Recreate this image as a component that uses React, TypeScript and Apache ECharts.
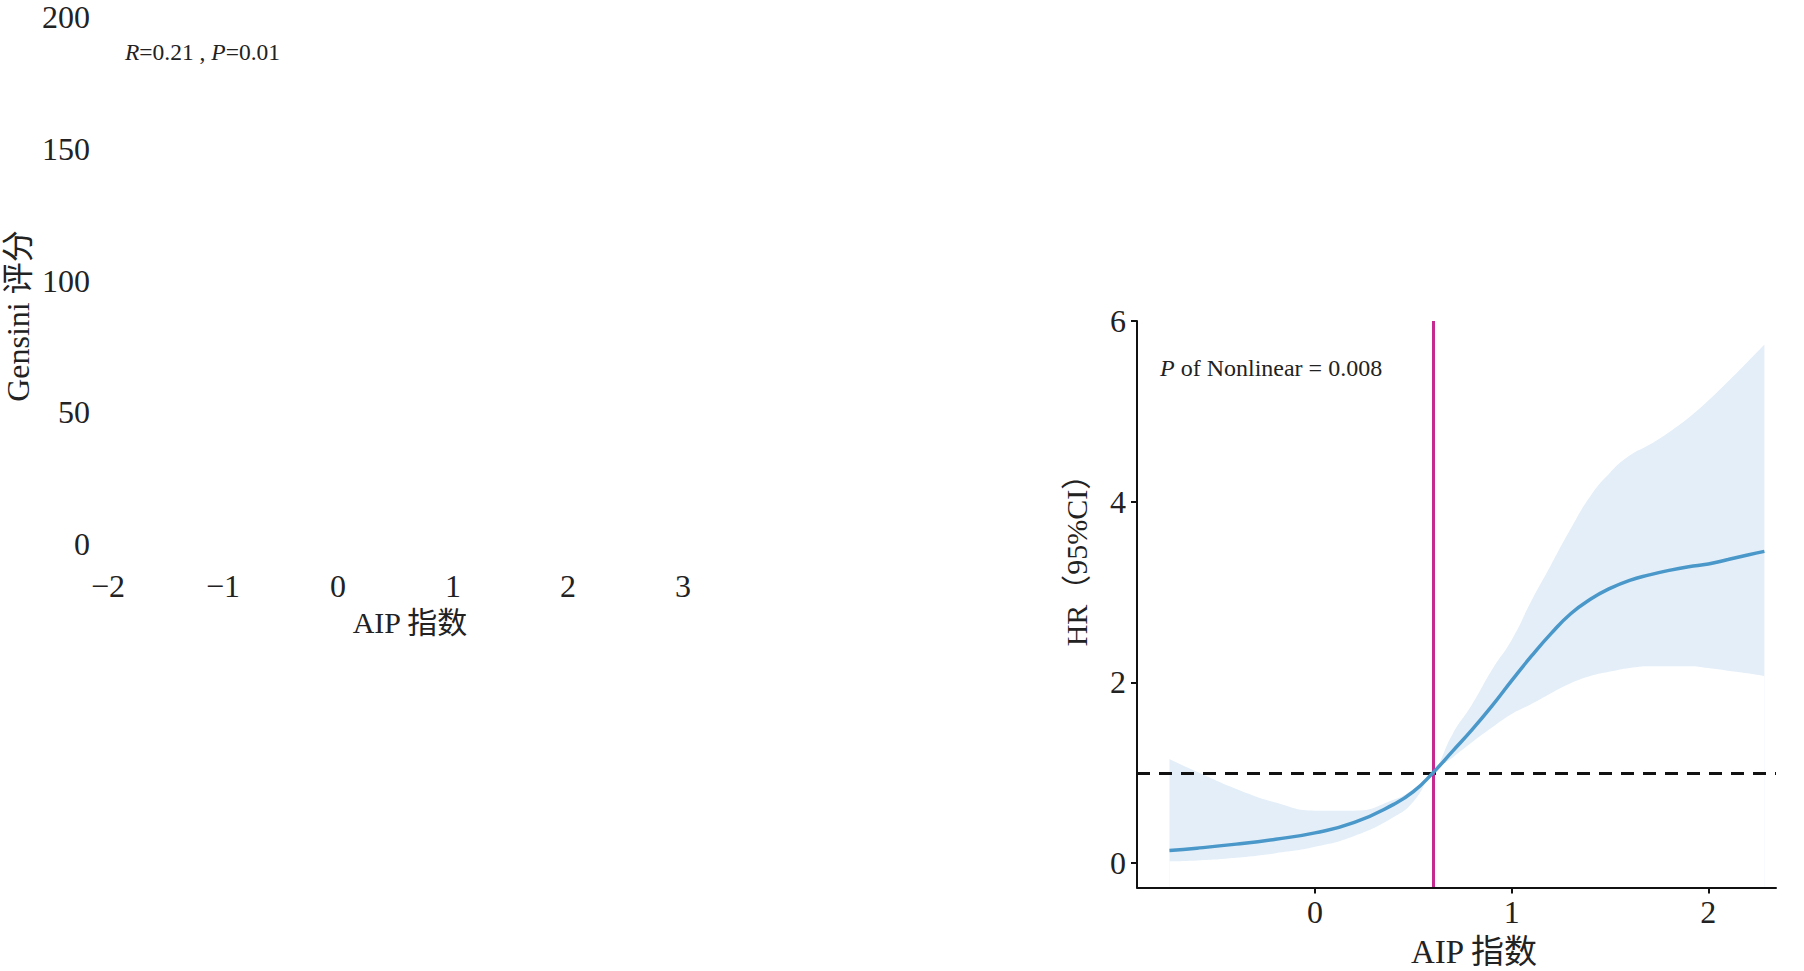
import React, { useEffect, useRef } from "react";
import * as echarts from "echarts";

// Left panel (empty scatter frame)
const leftYTicks = [0, 50, 100, 150, 200];
const leftXTicks = [-2, -1, 0, 1, 2, 3];

// Right panel (RCS curve)
const aipX = [-0.74, -0.6, -0.4, -0.2, 0, 0.2, 0.4, 0.5, 0.6, 0.7, 0.8, 0.9, 1.0, 1.1, 1.2, 1.3, 1.4, 1.5, 1.6, 1.7, 1.8, 1.9, 2.0, 2.1, 2.2, 2.285];
const hrValues = [0.14, 0.165, 0.21, 0.265, 0.335, 0.45, 0.65, 0.79, 1.0, 1.24, 1.48, 1.74, 2.02, 2.29, 2.54, 2.76, 2.92, 3.04, 3.13, 3.19, 3.24, 3.28, 3.31, 3.36, 3.41, 3.45];
const ciUpper = [1.15, 1.01, 0.82, 0.67, 0.58, 0.58, 0.7, 0.82, 1.0, 1.43, 1.76, 2.14, 2.47, 2.9, 3.3, 3.7, 4.06, 4.32, 4.51, 4.63, 4.77, 4.93, 5.12, 5.33, 5.55, 5.74];
const ciLower = [0.02, 0.03, 0.06, 0.11, 0.18, 0.3, 0.51, 0.68, 1.0, 1.17, 1.34, 1.5, 1.65, 1.76, 1.88, 1.99, 2.07, 2.12, 2.16, 2.18, 2.18, 2.18, 2.16, 2.13, 2.1, 2.07];
const rightXTicks = [0, 1, 2];
const rightYTicks = [0, 2, 4, 6];
const refHR = 1;
const cutPoint = 0.6;
const pNonlinear = "0.008";

const SERIF = "'Liberation Serif', 'DejaVu Serif', 'Noto Sans CJK SC', serif";

export default function App() {
  const ref = useRef<HTMLDivElement>(null);
  useEffect(() => {
    if (!ref.current) return;
    const chart = echarts.init(ref.current, null, { renderer: "svg" });
    const upperData = aipX.map((x, i) => [x, ciUpper[i]]);
    const lowerData = aipX.map((x, i) => [x, ciLower[i]]);
    const hrData = aipX.map((x, i) => [x, hrValues[i]]);
    const option: any = {
      animation: false,
      backgroundColor: "#ffffff",
      textStyle: { fontFamily: SERIF },
      grid: [
        { left: 108, width: 575, top: 17, height: 527 },
        { left: 1137, right: 28, top: 321, bottom: 83.5 },
      ],
      xAxis: [
        {
          gridIndex: 0,
          type: "value",
          min: leftXTicks[0],
          max: leftXTicks[leftXTicks.length - 1],
          interval: 1,
          axisLine: { show: false },
          axisTick: { show: false },
          splitLine: { show: false },
          axisLabel: {
            margin: 26,
            fontSize: 32,
            color: "#222",
            fontFamily: SERIF,
            formatter: (v: number) => (v < 0 ? "\u2212" + Math.abs(v) : String(v)),
          },
        },
        {
          gridIndex: 1,
          type: "value",
          min: -0.905,
          max: 2.344,
          z: 10,
          axisLine: { show: true, onZero: false, lineStyle: { color: "#111", width: 2 } },
          axisTick: { show: true, length: 6, lineStyle: { color: "#111", width: 2 }, customValues: rightXTicks },
          splitLine: { show: false },
          axisLabel: {
            margin: 8,
            fontSize: 32,
            color: "#222",
            fontFamily: SERIF,
            customValues: rightXTicks,
          },
        },
      ],
      yAxis: [
        {
          gridIndex: 0,
          type: "value",
          min: leftYTicks[0],
          max: leftYTicks[leftYTicks.length - 1],
          interval: 50,
          axisLine: { show: false },
          axisTick: { show: false },
          splitLine: { show: false },
          axisLabel: { margin: 18, fontSize: 32, color: "#222", fontFamily: SERIF },
        },
        {
          gridIndex: 1,
          type: "value",
          min: -0.27,
          max: 6,
          z: 10,
          axisLine: { show: true, onZero: false, lineStyle: { color: "#111", width: 2 } },
          axisTick: { show: true, length: 6, lineStyle: { color: "#111", width: 2 }, customValues: rightYTicks },
          splitLine: { show: false },
          axisLabel: { margin: 11, fontSize: 32, color: "#222", fontFamily: SERIF, customValues: rightYTicks },
        },
      ],
      series: [
        { type: "scatter", xAxisIndex: 0, yAxisIndex: 0, data: [] },
        {
          type: "line",
          xAxisIndex: 1,
          yAxisIndex: 1,
          data: upperData,
          smooth: true,
          symbol: "none",
          lineStyle: { opacity: 0 },
          areaStyle: { color: "#e3eef8", opacity: 1, origin: "start" },
          silent: true,
          z: 2,
        },
        {
          type: "line",
          xAxisIndex: 1,
          yAxisIndex: 1,
          data: lowerData,
          smooth: true,
          symbol: "none",
          lineStyle: { opacity: 0 },
          areaStyle: { color: "#ffffff", opacity: 1, origin: "start" },
          silent: true,
          z: 3,
        },
        {
          type: "line",
          xAxisIndex: 1,
          yAxisIndex: 1,
          data: hrData,
          smooth: true,
          symbol: "none",
          lineStyle: { color: "#4a97c9", width: 3.5 },
          z: 5,
          markLine: {
            silent: true,
            symbol: "none",
            label: { show: false },
            data: [
              { yAxis: refHR, lineStyle: { color: "#111", width: 3, type: [13, 9] } },
              { xAxis: cutPoint, lineStyle: { color: "#c42a90", width: 3, type: "solid" } },
            ],
          },
        },
      ],
      graphic: [
        {
          type: "text",
          x: 125,
          y: 52,
          style: {
            text: "{i|R}=0.21 , {i|P}=0.01",
            rich: { i: { fontStyle: "italic", fontSize: 23.5, fontFamily: SERIF, fill: "#222" } },
            fontSize: 23.5,
            fontFamily: SERIF,
            fill: "#222",
            verticalAlign: "middle",
          },
        },
        {
          type: "text",
          x: 18,
          y: 316,
          rotation: Math.PI / 2,
          style: {
            text: "Gensini 评分",
            fontSize: 32,
            fontFamily: SERIF,
            fill: "#222",
            align: "center",
            verticalAlign: "middle",
          },
        },
        {
          type: "text",
          x: 410,
          y: 622,
          style: {
            text: "AIP 指数",
            fontSize: 30,
            fontFamily: SERIF,
            fill: "#222",
            align: "center",
            verticalAlign: "middle",
          },
        },
        {
          type: "text",
          x: 1160,
          y: 368,
          style: {
            text: "{i|P} of Nonlinear = " + pNonlinear,
            rich: { i: { fontStyle: "italic", fontSize: 24, fontFamily: SERIF, fill: "#222" } },
            fontSize: 24,
            fontFamily: SERIF,
            fill: "#222",
            verticalAlign: "middle",
          },
        },
        {
          type: "text",
          x: 1076,
          y: 553,
          rotation: Math.PI / 2,
          style: {
            text: "HR（95%CI）",
            fontSize: 30,
            fontFamily: SERIF,
            fill: "#222",
            align: "center",
            verticalAlign: "middle",
          },
        },
        {
          type: "text",
          x: 1474,
          y: 952,
          style: {
            text: "AIP 指数",
            fontSize: 33,
            fontFamily: SERIF,
            fill: "#222",
            align: "center",
            verticalAlign: "middle",
          },
        },
      ],
    };
    chart.setOption(option);
    return () => chart.dispose();
  }, []);
  return (
    <div
      ref={ref}
      style={{ position: "absolute", left: 0, top: 0, width: 1804, height: 971, background: "#fff" }}
    />
  );
}
